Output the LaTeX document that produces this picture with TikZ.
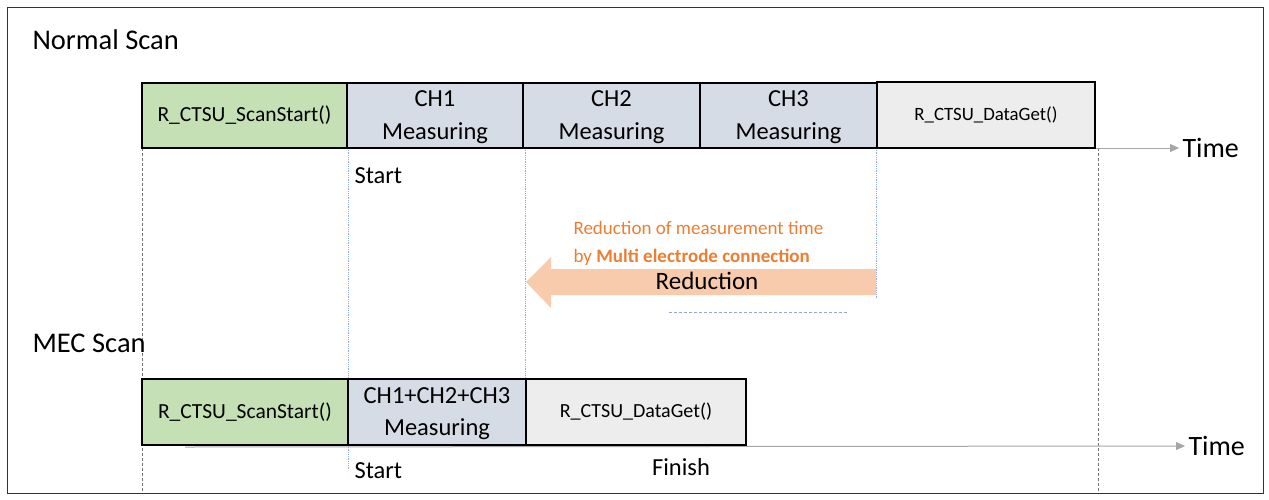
\documentclass[tikz,border=0pt]{standalone}
\usepackage{fontspec}
\setmainfont{Carlito}
\usetikzlibrary{arrows.meta}
\definecolor{scangreen}{HTML}{C5E0B4}
\definecolor{chblue}{HTML}{D6DCE5}
\definecolor{getgray}{HTML}{EDEDED}
\definecolor{redorange}{HTML}{F8CBAD}
\definecolor{textorange}{HTML}{ED7D31}
\definecolor{guideblue}{HTML}{8FAADC}

\begin{document}
\begin{tikzpicture}[x=1pt, y=-1pt, font=\fontsize{24.5}{32.5}\selectfont,
    box/.style={draw=black, line width=1.2pt},
    axis/.style={draw=black!35, line width=1pt, -{Triangle[length=9pt,width=8pt]}},
    gguide/.style={draw=black!55, densely dashed, line width=0.6pt},
    bguide/.style={draw=guideblue, densely dotted, line width=0.8pt},
    title/.style={anchor=west, font=\fontsize{28.5}{32}\selectfont},
    timelbl/.style={anchor=west, font=\fontsize{28}{32}\selectfont},
    func/.style={font=\fontsize{21.5}{25}\selectfont},
    meas/.style={midway, align=center, yshift=-1.5pt},
    mark1/.style={font=\fontsize{24.5}{28}\selectfont},
    note/.style={anchor=west, text=textorange, font=\fontsize{19}{22}\selectfont}]
    \useasboundingbox (0,0) rectangle (1269,499);
    \draw[black!80, line width=1pt] (7,7) rectangle (1263,493);

    % guide lines
    \foreach \x in {142,1098} \draw[gguide] (\x,148) -- (\x,493);
    \draw[bguide] (348,148) -- (348,470);
    \draw[bguide] (525,148) -- (525,380);
    \draw[bguide] (876,148) -- (876,298);

    % normal scan
    \node[title] (normal) at (29,40) {Normal Scan};
    \node[timelbl] (time1) at (1179,148) {Time};
    \draw[axis] (185,148) -- (time1);
    \draw[box, fill=scangreen] (142,83) rectangle (347,148) node[midway, func] (ss1) {R\_CTSU\_ScanStart()};
    \draw[box, fill=chblue] (347,83) rectangle (523,148) node[meas] (ch1) {CH1\\Measuring};
    \draw[box, fill=chblue] (523,83) rectangle (700,148) node[meas] (ch2) {CH2\\Measuring};
    \draw[box, fill=chblue] (700,83) rectangle (877,148) node[meas] (ch3) {CH3\\Measuring};
    \draw[box, fill=getgray] (877,82) rectangle (1095,148) node[midway, font=\fontsize{18.8}{22}\selectfont] (dg1) {R\_CTSU\_DataGet()};
    \node[mark1, anchor=west] (start1) at (351,176) {Start};

    % reduction
    \fill[redorange] (526,282) -- (551,257) -- (551,269) -- (876,269) -- (876,295) -- (551,295) -- (551,308) -- cycle;
    \node[font=\fontsize{25}{28}\selectfont] (red) at (707,281) {Reduction};
    \node[note] (why1) at (570,228) {Reduction of measurement time};
    \node[note] (why2) at (570,257) {by \textbf{Multi electrode connection}};
    \draw[guideblue, densely dashed] (669,312) -- (847,312);

    % MEC scan
    \node[title] (mec) at (29,343) {MEC Scan};
    \node[timelbl] (time2) at (1185,446) {Time};
    \draw[axis] (185,447) -- (time2);
    \draw[box, fill=scangreen] (142,379) rectangle (348,445) node[midway, func] (ss2) {R\_CTSU\_ScanStart()};
    \draw[box, fill=chblue] (348,379) rectangle (526,445) node[meas] (ch123) {CH1+CH2+CH3\\Measuring};
    \draw[box, fill=getgray] (526,379) rectangle (746,445) node[midway, font=\fontsize{20}{24}\selectfont] (dg2) {R\_CTSU\_DataGet()};
    \node[mark1, anchor=west] (start2) at (351,471) {Start};
    \node[mark1] (finish) at (681,467) {Finish};
\end{tikzpicture}
\end{document}
